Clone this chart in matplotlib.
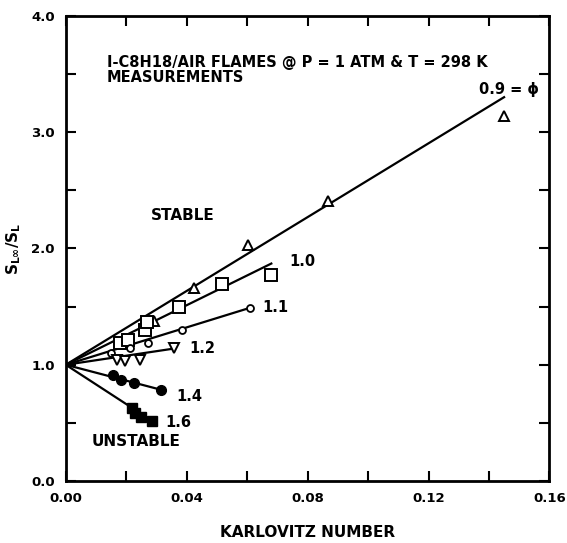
import numpy as np
import matplotlib
matplotlib.use('Agg')
import matplotlib.pyplot as plt
from matplotlib.ticker import MultipleLocator, FormatStrFormatter

plt.rcParams['font.family'] = ['DejaVu Sans']
plt.rcParams['font.weight'] = 'bold'
plt.rcParams['mathtext.default'] = 'bf'

# measured points for each equivalence ratio (Karlovitz number, SL_inf/SL)
ka_09 = [0.0292, 0.0425, 0.0603, 0.0869, 0.145]
s_09 = [1.38, 1.66, 2.03, 2.41, 3.14]
ka_10 = [0.0180, 0.0207, 0.0262, 0.0269, 0.0374, 0.0518, 0.068]
s_10 = [1.19, 1.21, 1.30, 1.37, 1.50, 1.69, 1.77]
ka_11 = [0.0150, 0.0213, 0.0272, 0.0384, 0.061]
s_11 = [1.10, 1.14, 1.19, 1.30, 1.49]
ka_12 = [0.0170, 0.0197, 0.0246, 0.0357]
s_12 = [1.04, 1.03, 1.04, 1.14]
ka_14 = [0.0157, 0.0184, 0.0226, 0.0315]
s_14 = [0.91, 0.87, 0.845, 0.78]
ka_16 = [0.0220, 0.0230, 0.0250, 0.0285]
s_16 = [0.63, 0.585, 0.55, 0.52]

# end points of the straight-line fits (all start at 0, 1)
fit_end_ka = [0.145, 0.068, 0.061, 0.036, 0.033, 0.029]
fit_end_s = [3.30, 1.87, 1.49, 1.14, 0.775, 0.51]
phi_labels = ['0.9 = \u03d5', '1.0', '1.1', '1.2', '1.4', '1.6']

fig = plt.figure(figsize=(5.67, 5.43), dpi=100)
ax = fig.add_axes([0.116, 0.114, 0.853, 0.857])

for xe, ye in zip(fit_end_ka, fit_end_s):
    ax.plot([0, xe], [1.0, ye], color='black', lw=1.6, zorder=2)

mk = dict(color='black', linestyle='none', zorder=3)
ax.plot(ka_09, s_09, marker='^', ms=7, mfc='white', mew=1.4, **mk)
ax.plot(ka_10, s_10, marker='s', ms=8, mfc='white', mew=1.4, **mk)
ax.plot(ka_11, s_11, marker='o', ms=5, mfc='white', mew=1.3, **mk)
ax.plot(ka_12, s_12, marker='v', ms=7, mfc='white', mew=1.4, **mk)
ax.plot(ka_14, s_14, marker='o', ms=7, mfc='black', **mk)
ax.plot(ka_16, s_16, marker='s', ms=7, mfc='black', **mk)

# curve labels
lab_pos = [(0.1367, 3.37), (0.0738, 1.89), (0.0649, 1.49), (0.041, 1.14), (0.0367, 0.73), (0.0328, 0.50)]
for (lx, ly), t in zip(lab_pos, phi_labels):
    ax.text(lx, ly, t, fontsize=10.5, fontweight='bold', va='center', ha='left')

ax.text(0.0135, 3.60, 'I-C8H18/AIR FLAMES @ P = 1 ATM & T = 298 K',
        fontsize=10.5, fontweight='bold', va='center', ha='left')
ax.text(0.0135, 3.47, 'MEASUREMENTS', fontsize=10.5, fontweight='bold', va='center', ha='left')
ax.text(0.028, 2.28, 'STABLE', fontsize=11, fontweight='bold', va='center', ha='left')
ax.text(0.0085, 0.34, 'UNSTABLE', fontsize=11, fontweight='bold', va='center', ha='left')

ax.set_xlim(0, 0.16)
ax.set_ylim(0, 4.0)
ax.xaxis.set_major_locator(MultipleLocator(0.04))
ax.xaxis.set_minor_locator(MultipleLocator(0.02))
ax.yaxis.set_major_locator(MultipleLocator(1.0))
ax.yaxis.set_minor_locator(MultipleLocator(0.5))
ax.xaxis.set_major_formatter(FormatStrFormatter('%.2f'))
ax.yaxis.set_major_formatter(FormatStrFormatter('%.1f'))
ax.tick_params(which='both', direction='in', top=True, right=True, length=7, width=1.5)
ax.tick_params(which='major', labelsize=9.5)
ax.tick_params(axis='x', which='major', pad=8)
ax.tick_params(axis='y', which='major', pad=8)
for lab in ax.get_xticklabels() + ax.get_yticklabels():
    lab.set_fontweight('bold')
for sp in ax.spines.values():
    sp.set_linewidth(2)

ax.set_xlabel('KARLOVITZ NUMBER', fontsize=11, fontweight='bold', labelpad=14)
ax.set_ylabel(r'S$_{L\infty}$/S$_L$', fontsize=11, fontweight='bold', labelpad=6)

fig.savefig('out.png', dpi=100)
